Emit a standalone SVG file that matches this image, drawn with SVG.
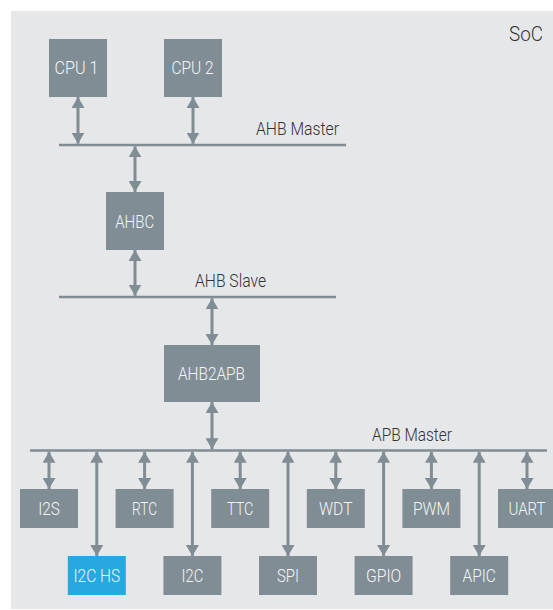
<svg xmlns="http://www.w3.org/2000/svg" width="553" height="610" viewBox="0 0 553 610">
<defs>
<style>
.bg{fill:#e6e7e9}
.box{fill:#808d94}
.hs{fill:#27a8e0}
.bus{stroke:#808d94;stroke-width:2.6;fill:none}
.arr{stroke:#808d94;stroke-width:3;fill:none;marker-start:url(#ah);marker-end:url(#ah)}
.lbl{font-family:Roboto,"Liberation Sans",Arial,sans-serif;font-weight:300;font-size:17.5px;fill:#f4f6f7;text-anchor:middle}
.bl{font-family:Roboto,"Liberation Sans",Arial,sans-serif;font-weight:300;font-size:18.5px;fill:#333333}
</style>
<marker id="ah" viewBox="0 0 11 13" refX="11" refY="6.5" markerWidth="11" markerHeight="13" markerUnits="userSpaceOnUse" orient="auto-start-reverse">
<path d="M0,0 L11,6.5 L0,13 z" fill="#808d94"/>
</marker>
</defs>
<rect class="bg" x="11" y="11" width="542" height="598"/>
<text id="soc" class="bl" x="543" y="41" text-anchor="end" textLength="34" lengthAdjust="spacingAndGlyphs" style="font-size:20px">SoC</text>

<g id="buses">
<line class="bus" x1="59" y1="145" x2="346" y2="145"/>
<text class="bl" x="256" y="135" textLength="83" lengthAdjust="spacingAndGlyphs">AHB Master</text>
<line class="bus" x1="59" y1="297" x2="336" y2="297"/>
<text class="bl" x="195" y="287.3" textLength="71" lengthAdjust="spacingAndGlyphs">AHB Slave</text>
<line class="bus" x1="30" y1="450.5" x2="547" y2="450.5"/>
<text class="bl" x="372" y="440.7" textLength="80" lengthAdjust="spacingAndGlyphs">APB Master</text>
</g>

<g id="connectors">
<line class="arr" x1="78" y1="97" x2="78" y2="143.7"/>
<line class="arr" x1="193" y1="97" x2="193" y2="143.7"/>
<line class="arr" x1="135" y1="146.3" x2="135" y2="192"/>
<line class="arr" x1="135" y1="250" x2="135" y2="295.7"/>
<line class="arr" x1="212" y1="298.3" x2="212" y2="345"/>
<line class="arr" x1="212" y1="402" x2="212" y2="449.2"/>
<line class="arr" x1="49" y1="451.8" x2="49" y2="489"/>
<line class="arr" x1="96.8" y1="451.8" x2="96.8" y2="556"/>
<line class="arr" x1="144.6" y1="451.8" x2="144.6" y2="489"/>
<line class="arr" x1="192.4" y1="451.8" x2="192.4" y2="556"/>
<line class="arr" x1="240.2" y1="451.8" x2="240.2" y2="489"/>
<line class="arr" x1="288" y1="451.8" x2="288" y2="556"/>
<line class="arr" x1="335.8" y1="451.8" x2="335.8" y2="489"/>
<line class="arr" x1="383.6" y1="451.8" x2="383.6" y2="556"/>
<line class="arr" x1="431.4" y1="451.8" x2="431.4" y2="489"/>
<line class="arr" x1="479.2" y1="451.8" x2="479.2" y2="556"/>
<line class="arr" x1="527" y1="451.8" x2="527" y2="489"/>
</g>

<g id="cpu1"><rect class="box" x="49" y="39" width="58" height="58"/><text class="lbl" x="76.5" y="74.3" textLength="44" lengthAdjust="spacingAndGlyphs">CPU 1</text></g>
<g id="cpu2"><rect class="box" x="164" y="39" width="58" height="58"/><text class="lbl" x="192.5" y="74.3" textLength="42" lengthAdjust="spacingAndGlyphs">CPU 2</text></g>
<g id="ahbc"><rect class="box" x="106" y="192" width="58" height="58"/><text class="lbl" x="134.7" y="227.5" textLength="39" lengthAdjust="spacingAndGlyphs">AHBC</text></g>
<g id="ahb2apb"><rect class="box" x="164" y="345" width="96" height="57"/><text class="lbl" x="211.5" y="380" textLength="67" lengthAdjust="spacingAndGlyphs">AHB2APB</text></g>

<g id="i2s"><rect class="box" x="20" y="489" width="58" height="39"/><text class="lbl" x="49" y="514.7" textLength="21.7" lengthAdjust="spacingAndGlyphs">I2S</text></g>
<g id="rtc"><rect class="box" x="115.6" y="489" width="58" height="39"/><text class="lbl" x="144.6" y="514.7" textLength="25" lengthAdjust="spacingAndGlyphs">RTC</text></g>
<g id="ttc"><rect class="box" x="211.2" y="489" width="58" height="39"/><text class="lbl" x="240.2" y="514.7" textLength="26.5" lengthAdjust="spacingAndGlyphs">TTC</text></g>
<g id="wdt"><rect class="box" x="306.8" y="489" width="58" height="39"/><text class="lbl" x="335.8" y="514.7" textLength="33.5" lengthAdjust="spacingAndGlyphs">WDT</text></g>
<g id="pwm"><rect class="box" x="402.4" y="489" width="58" height="39"/><text class="lbl" x="431.4" y="514.7" textLength="37" lengthAdjust="spacingAndGlyphs">PWM</text></g>
<g id="uart"><rect class="box" x="498" y="489" width="58" height="39"/><text class="lbl" x="527" y="514.7" textLength="37" lengthAdjust="spacingAndGlyphs">UART</text></g>

<g id="i2chs"><rect class="hs" x="67.8" y="556" width="58" height="39"/><text class="lbl" x="96.8" y="581.7" textLength="46.7" lengthAdjust="spacingAndGlyphs">I2C HS</text></g>
<g id="i2c"><rect class="box" x="163.4" y="556" width="58" height="39"/><text class="lbl" x="192.4" y="581.7" textLength="21.7" lengthAdjust="spacingAndGlyphs">I2C</text></g>
<g id="spi"><rect class="box" x="259" y="556" width="58" height="39"/><text class="lbl" x="288" y="581.7" textLength="22" lengthAdjust="spacingAndGlyphs">SPI</text></g>
<g id="gpio"><rect class="box" x="354.6" y="556" width="58" height="39"/><text class="lbl" x="383.6" y="581.7" textLength="35.3" lengthAdjust="spacingAndGlyphs">GPIO</text></g>
<g id="apic"><rect class="box" x="450.2" y="556" width="58" height="39"/><text class="lbl" x="479.2" y="581.7" textLength="33.4" lengthAdjust="spacingAndGlyphs">APIC</text></g>
</svg>
